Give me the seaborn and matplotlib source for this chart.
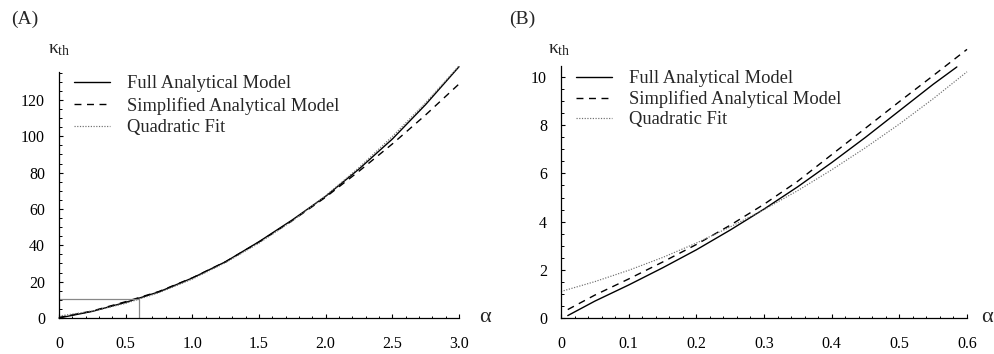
import numpy as np
import pandas as pd
import matplotlib
matplotlib.use('Agg')
import matplotlib.pyplot as plt
from matplotlib.ticker import FixedLocator, MultipleLocator
import seaborn as sns

# values
# panel (A): whole range
alpha_a = [0.0, 0.25, 0.5, 0.75, 1.0, 1.25, 1.5, 1.75, 2.0, 2.25, 2.5, 2.75, 3.0]
full_a = [0.0, 3.65, 8.6, 14.4, 22.0, 31.0, 42.0, 54.0, 67.0, 82.0, 98.5, 117.5, 138.3]
simpl_a = [0.3, 3.85, 8.98, 14.6, 22.1, 31.0, 41.8, 53.6, 66.5, 80.8, 95.8, 111.8, 128.8]
quad_a = [1.1, 3.78, 8.05, 13.9, 21.4, 30.5, 41.2, 53.4, 67.3, 82.8, 99.9, 118.5, 138.8]

# panel (B): zoom on small alpha
alpha_b_full = [0.01, 0.05, 0.10, 0.15, 0.20, 0.25, 0.30, 0.35, 0.40, 0.45, 0.50, 0.55, 0.585]
full_b = [0.10, 0.70, 1.37, 2.08, 2.83, 3.65, 4.52, 5.45, 6.45, 7.50, 8.60, 9.70, 10.42]
alpha_b_simpl = [0.01, 0.05, 0.10, 0.15, 0.20, 0.25, 0.30, 0.35, 0.40, 0.45, 0.50, 0.55, 0.60]
simpl_b = [0.35, 0.95, 1.62, 2.32, 3.05, 3.85, 4.72, 5.68, 6.78, 7.88, 8.98, 10.06, 11.15]
alpha_b_quad = [0.0, 0.05, 0.10, 0.15, 0.20, 0.25, 0.30, 0.35, 0.40, 0.45, 0.50, 0.55, 0.60]
quad_b = [1.10, 1.51, 1.98, 2.51, 3.11, 3.78, 4.50, 5.29, 6.15, 7.07, 8.05, 9.10, 10.22]

# zoom box drawn in (A)
box_alpha = 0.6
box_kappa = 10.3

labels = ['Full Analytical Model', 'Simplified Analytical Model', 'Quadratic Fit']
xticks_a = [0, 0.5, 1.0, 1.5, 2.0, 2.5, 3.0]
xticklabels_a = ['0', '0.5', '1.0', '1.5', '2.0', '2.5', '3.0']
yticks_a = [0, 20, 40, 60, 80, 100, 120]
xticks_b = [0, 0.1, 0.2, 0.3, 0.4, 0.5, 0.6]
xticklabels_b = ['0', '0.1', '0.2', '0.3', '0.4', '0.5', '0.6']
yticks_b = [0, 2, 4, 6, 8, 10]

sns.set_theme(style='ticks')
plt.rcParams['font.family'] = ['Liberation Serif', 'DejaVu Serif']
plt.rcParams['axes.linewidth'] = 0.9

fig = plt.figure(figsize=(9.94, 3.54), dpi=100)
W, H = 994, 354


def px_axes(x0, x1, ytop, ybot):
    return fig.add_axes([x0 / W, 1 - ybot / H, (x1 - x0) / W, (ybot - ytop) / H])


ax_a = px_axes(59, 459, 72, 318)
ax_b = px_axes(561, 967, 66, 318)

styles = [
    dict(color='black', linestyle='-', linewidth=1.0),
    dict(color='black', linestyle=(0, (5, 4)), linewidth=1.0),
    dict(color='#6e6e6e', linestyle=(0, (1, 1.3)), linewidth=0.85),
]

series_a = [(alpha_a, full_a), (alpha_a, simpl_a), (alpha_a, quad_a)]
series_b = [(alpha_b_full, full_b), (alpha_b_simpl, simpl_b), (alpha_b_quad, quad_b)]

for ax, series in [(ax_a, series_a), (ax_b, series_b)]:
    for (xs, ys), lab, st in zip(series, labels, styles):
        sns.lineplot(x=xs, y=ys, ax=ax, label=lab, clip_on=False, **st)

# zoom region marker
ax_a.plot([0, box_alpha, box_alpha], [box_kappa, box_kappa, 0], color='#888888', linewidth=0.9)

ax_a.set_xlim(0, 3.0)
ax_a.set_ylim(0, 135.4)
ax_b.set_xlim(0, 0.6)
ax_b.set_ylim(0, 10.46)

ax_a.xaxis.set_major_locator(FixedLocator(xticks_a))
ax_a.set_xticklabels(xticklabels_a)
ax_a.xaxis.set_minor_locator(MultipleLocator(0.1))
ax_a.yaxis.set_major_locator(FixedLocator(yticks_a))
ax_a.yaxis.set_minor_locator(MultipleLocator(5))

ax_b.xaxis.set_major_locator(FixedLocator(xticks_b))
ax_b.set_xticklabels(xticklabels_b)
ax_b.xaxis.set_minor_locator(MultipleLocator(0.02))
ax_b.yaxis.set_major_locator(FixedLocator(yticks_b))
ax_b.yaxis.set_minor_locator(MultipleLocator(0.5))

for ax in (ax_a, ax_b):
    sns.despine(ax=ax)
    ax.tick_params(which='major', direction='in', length=3.2, width=0.8, labelsize=11.5,
                   color='black', labelcolor='black')
    ax.tick_params(axis='x', which='major', pad=13)
    ax.tick_params(axis='y', which='major', pad=10)
    ax.tick_params(which='minor', direction='in', length=1.8, width=0.7, color='black')
    ax.tick_params(which='minor', bottom=True, left=True)
    ax.set_xlabel('')
    ax.set_ylabel('')
    ax.set_facecolor('white')
    for sp in ax.spines.values():
        sp.set_color('black')

leg_a = ax_a.legend(loc='upper left', bbox_to_anchor=(74 / W, 1 - 75 / H), bbox_transform=fig.transFigure,
                    frameon=False, fontsize=13.3, handlelength=1.95, handletextpad=0.92,
                    labelspacing=0.26, borderpad=0, borderaxespad=0)
leg_b = ax_b.legend(loc='upper left', bbox_to_anchor=(576 / W, 1 - 70 / H), bbox_transform=fig.transFigure,
                    frameon=False, fontsize=13.3, handlelength=1.95, handletextpad=0.92,
                    labelspacing=0.17, borderpad=0, borderaxespad=0)

fig.text(25 / W, 1 - 19 / H, '(A)', fontsize=14, ha='center', va='center')
fig.text(522 / W, 1 - 19 / H, '(B)', fontsize=14, ha='center', va='center')
fig.text(59 / W, 1 - 49 / H, r'$\mathregular{κ_{th}}$', fontsize=14, ha='center', va='center')
fig.text(559 / W, 1 - 49 / H, r'$\mathregular{κ_{th}}$', fontsize=14, ha='center', va='center')
fig.text(485 / W, 1 - 317 / H, 'α', fontsize=16, ha='center', va='center')
fig.text(987 / W, 1 - 317 / H, 'α', fontsize=16, ha='center', va='center')

fig.patch.set_facecolor('white')
fig.savefig('out.png', dpi=100)
